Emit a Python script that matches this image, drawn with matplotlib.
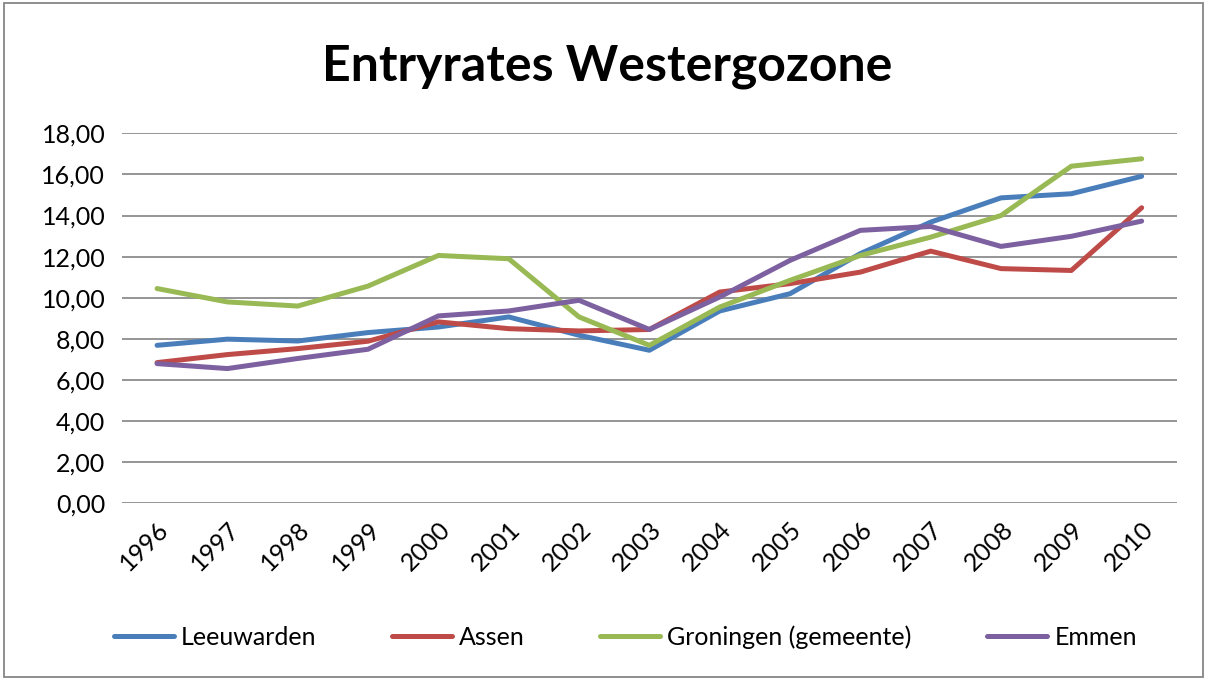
"""Entryrates Westergozone line chart"""

import matplotlib
matplotlib.use('Agg')
import matplotlib.pyplot as plt
from matplotlib.ticker import FuncFormatter, MultipleLocator
from matplotlib.patches import Rectangle

plt.rcParams['font.family'] = ['Lato', 'DejaVu Sans']

years = ['1996', '1997', '1998', '1999', '2000', '2001', '2002', '2003',
         '2004', '2005', '2006', '2007', '2008', '2009', '2010']

leeuwarden = [7.69, 7.99, 7.90, 8.31, 8.58, 9.07, 8.18, 7.45,
              9.36, 10.20, 12.15, 13.68, 14.86, 15.06, 15.91]
assen = [6.85, 7.24, 7.53, 7.89, 8.83, 8.50, 8.39, 8.46,
         10.28, 10.69, 11.25, 12.27, 11.42, 11.33, 14.38]
groningen = [10.45, 9.80, 9.60, 10.57, 12.06, 11.90, 9.07, 7.69,
             9.55, 10.85, 12.06, 12.95, 14.00, 16.40, 16.76]
emmen = [6.80, 6.56, 7.05, 7.50, 9.12, 9.36, 9.88, 8.46,
         10.04, 11.82, 13.28, 13.47, 12.50, 12.99, 13.73]

series = [('Leeuwarden', leeuwarden, '#4A7EBB'),
          ('Assen', assen, '#BE4B48'),
          ('Groningen (gemeente)', groningen, '#98B954'),
          ('Emmen', emmen, '#7D60A0')]

fig = plt.figure(figsize=(12.07, 6.79), dpi=100)
ax = fig.add_axes([0.101, 0.2585, 0.874, 0.5452])

x = list(range(len(years)))
for name, vals, col in series:
    ax.plot(x, vals, color=col, lw=3.6, label=name, solid_capstyle='round')

ax.set_xlim(-0.5, len(years) - 0.5)
ax.set_ylim(0, 18)
ax.yaxis.set_major_locator(MultipleLocator(2))
ax.yaxis.set_major_formatter(FuncFormatter(lambda v, p: ('%.2f' % v).replace('.', ',')))
ax.set_xticks(x)
ax.set_xticklabels(years, rotation=45, ha='right', rotation_mode='anchor')
ax.tick_params(axis='both', length=0, labelsize=18)
ax.tick_params(axis='x', pad=10)
ax.tick_params(axis='y', pad=12)
ax.grid(axis='y', color='#8c8c8c', lw=1.3)
ax.set_axisbelow(True)
for s in ax.spines.values():
    s.set_visible(False)

fig.text(0.503, 0.902, 'Entryrates Westergozone', ha='center', va='center',
         fontsize=36, fontweight='bold')

fig.legend(loc='center', bbox_to_anchor=(0.518, 0.062), ncol=4, frameon=False,
           fontsize=18, handlelength=2.4, handletextpad=0.3, columnspacing=3.0)

fig.patches.append(Rectangle((0.003, 0.003), 0.994, 0.993, transform=fig.transFigure,
                             fill=False, edgecolor='#868686', lw=1.3))

fig.savefig('out.png', dpi=100)
